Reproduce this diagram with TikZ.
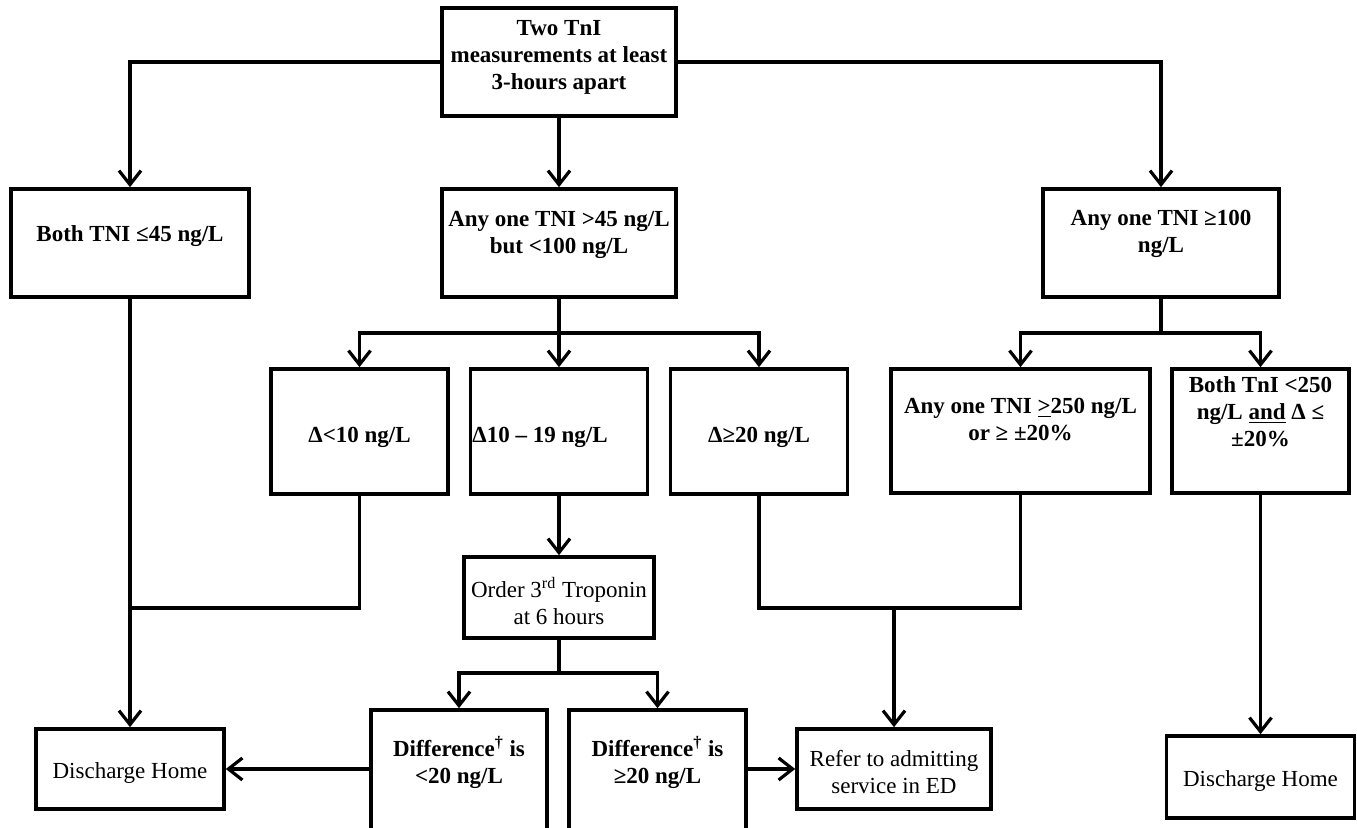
\documentclass[tikz,border=0pt]{standalone}
\usepackage{fontspec}
\setmainfont{Liberation Serif}
\usetikzlibrary{arrows.meta}

\begin{document}
\begin{tikzpicture}
        [
        x=0.5pt, y=-0.5pt,
        box/.style={rectangle, draw, line width=1.8pt, inner sep=0pt},
        txt/.style={anchor=north, inner sep=0pt, align=center, font=\fontsize{11.5}{13.5}\selectfont\bfseries},
        normaltxt/.style={txt, font=\fontsize{11.5}{13.5}\selectfont},
        conn/.style={line width=1.6pt},
        arr/.style={conn, -{Straight Barb[length=7pt, width=11pt, line width=1.6pt]}}
        ]

        \useasboundingbox (0,0) rectangle (1357,828);
        \clip (0,0) rectangle (1357,828);

        % boxes
        \node[box, minimum width=117pt, minimum height=54pt] (two) at (559,62) {};
        \node[box, minimum width=119pt, minimum height=54pt] (both) at (130,243) {};
        \node[box, minimum width=117pt, minimum height=54pt] (anymid) at (559,243) {};
        \node[box, minimum width=118pt, minimum height=54pt] (anyhigh) at (1161,243) {};
        \node[box, minimum width=88.5pt, minimum height=62.5pt] (dlow) at (359.5,431.5) {};
        \node[box, minimum width=88.5pt, minimum height=62.5pt] (dmid) at (559,431.5) {};
        \node[box, minimum width=88.5pt, minimum height=62.5pt] (dhigh) at (759,431.5) {};
        \node[box, minimum width=129.5pt, minimum height=62pt] (g250) at (1020.5,431) {};
        \node[box, minimum width=88.5pt, minimum height=62pt] (b250) at (1260.5,431) {};
        \node[box, minimum width=95pt, minimum height=40.5pt] (order) at (559,597.5) {};
        \node[box, minimum width=88pt, minimum height=100pt] (diffl) at (459,810) {};
        \node[box, minimum width=88.5pt, minimum height=100pt] (diffr) at (657.5,810) {};
        \node[box, minimum width=97pt, minimum height=40pt] (refer) at (894,769) {};
        \node[box, minimum width=94pt, minimum height=40pt] (dhl) at (130,769) {};
        \node[box, minimum width=94pt, minimum height=41pt] (dhr) at (1260.5,777) {};

        % texts
        \node[txt] (two-t) at (559,20) {Two TnI\\measurements at least\\3-hours apart};
        \node[txt] (both-t) at (130,225) {Both TNI ≤45 ng/L};
        \node[txt] (anymid-t) at (559,211) {Any one TNI >45 ng/L\\but <100 ng/L};
        \node[txt] (anyhigh-t) at (1161,210) {Any one TNI ≥100\\ng/L};
        \node[txt] (dlow-t) at (359.5,427) {Δ<10 ng/L};
        \node[txt, anchor=north west] (dmid-t) at (472,427) {Δ10 – 19 ng/L};
        \node[txt] (dhigh-t) at (759,427) {Δ≥20 ng/L};
        \node[txt] (g250-t) at (1020.5,398) {Any one TNI \underline{>}250 ng/L\\or ≥ ±20\%};
        \node[txt] (b250-t) at (1260.5,376) {Both TnI <250\\ng/L \underline{and} Δ ≤\\±20\%};
        \node[normaltxt] (order-t) at (559,577) {Order 3\textsuperscript{rd} Troponin\\at 6 hours};
        \node[txt] (diffl-t) at (459,736) {Difference\textsuperscript{†} is\\<20 ng/L};
        \node[txt] (diffr-t) at (657.5,736) {Difference\textsuperscript{†} is\\≥20 ng/L};
        \node[normaltxt] (refer-t) at (894,750) {Refer to admitting\\service in ED};
        \node[normaltxt] (dhl-t) at (130,762) {Discharge Home};
        \node[normaltxt] (dhr-t) at (1260.5,770) {Discharge Home};

        % branch points
        \coordinate (br1) at (559,333);
        \coordinate (br2) at (1161,333);
        \coordinate (br3) at (559,673);
        \coordinate (j1) at (130,608);
        \coordinate (j2) at (894,608);

        % connectors
        \draw[arr] (two.west) -| (both.north);
        \draw[arr] (two.east) -| (anyhigh.north);
        \draw[arr] (two.south) -- (anymid.north);
        \draw[conn] (anymid.south) -- (br1);
        \draw[arr] (br1) -| (dlow.north);
        \draw[arr] (br1) -- (dmid.north);
        \draw[arr] (br1) -| (dhigh.north);
        \draw[conn] (anyhigh.south) -- (br2);
        \draw[arr] (br2) -| (g250.north);
        \draw[arr] (br2) -| (b250.north);
        \draw[arr] (both.south) -- (dhl.north);
        \draw[conn] (dlow.south) |- (j1);
        \draw[arr] (dmid.south) -- (order.north);
        \draw[conn] (order.south) -- (br3);
        \draw[arr] (br3) -| (diffl.north);
        \draw[arr] (br3) -| (diffr.north);
        \draw[arr] (dhl.east -| diffl.west) -- (dhl.east);
        \draw[arr] (refer.west -| diffr.east) -- (refer.west);
        \draw[conn] (dhigh.south) |- (j2);
        \draw[conn] (g250.south) |- (j2);
        \draw[arr] (j2) -- (refer.north);
        \draw[arr] (b250.south) -- (dhr.north);

    \end{tikzpicture}
\end{document}
